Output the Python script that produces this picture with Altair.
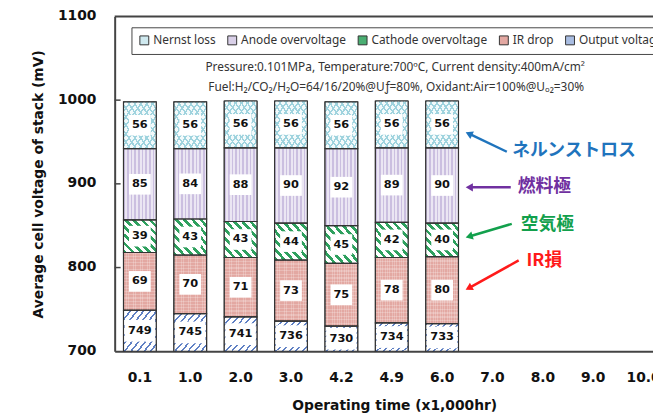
import math
import altair as alt
import pandas as pd

# ---------------- data ----------------
times = ["0.1", "1.0", "2.0", "3.0", "4.2", "4.9", "6.0", "7.0", "8.0", "9.0", "10.0"]
output_voltage = [749, 745, 741, 736, 730, 734, 733]
ir_drop = [69, 70, 71, 73, 75, 78, 80]
cathode_overvoltage = [39, 43, 43, 44, 45, 42, 40]
anode_overvoltage = [85, 84, 88, 90, 92, 89, 90]
nernst_loss = [56, 56, 56, 56, 56, 56, 56]
stack_order = ["Output voltage", "IR drop", "Cathode overvoltage", "Anode overvoltage", "Nernst loss"]
legend_order = ["Nernst loss", "Anode overvoltage", "Cathode overvoltage", "IR drop", "Output voltage"]
legend_colors = ["#cfe9ef", "#d9d0e8", "#4aae72", "#e3a8a2", "#a9bde2"]
y_ticks = [700, 800, 900, 1000, 1100]
inner_ticks = [800, 900, 1000]
y_min, y_max = 700, 1100

subtitle1 = "Pressure:0.101MPa, Temperature:700\u00baC, Current density:400mA/cm\u00b2"
subtitle2 = "Fuel:H\u2082/CO\u2082/H\u2082O=64/16/20%@U\u0192=80%,  Oxidant:Air=100%@U\u2092\u2082=30%"

annotations = [
    ("\u30cd\u30eb\u30f3\u30b9\u30c8\u30ed\u30b9", "#1f74bd"),
    ("\u71c3\u6599\u6975", "#7030a0"),
    ("\u7a7a\u6c17\u6975", "#12a04c"),
    ("IR\u640d", "#ff1a1a"),
]

# ---------------- table ----------------
rows = []
value_lists = [output_voltage, ir_drop, cathode_overvoltage, anode_overvoltage, nernst_loss]
for i, t in enumerate(times[:len(output_voltage)]):
    base = 0
    for name, vals in zip(stack_order, value_lists):
        v = vals[i]
        lo = max(base, y_min)
        hi = base + v
        rows.append(dict(time=t, series=name, value=v, lo=lo, hi=hi,
                         mid=(lo + hi) / 2, digits=len(str(v))))
        base += v
df = pd.DataFrame(rows)


def stripes(c1, c2, n, duty, x1, y1, x2, y2):
    stops = []
    for k in range(n):
        a = k / n
        b = (k + duty) / n
        c = (k + 1) / n
        stops += [alt.GradientStop(offset=a, color=c1), alt.GradientStop(offset=b, color=c1),
                  alt.GradientStop(offset=b, color=c2), alt.GradientStop(offset=c, color=c2)]
    return alt.LinearGradient(gradient="linear", stops=stops, x1=x1, y1=y1, x2=x2, y2=y2)


YTITLE = "Average cell voltage of stack (mV)"
x_enc = alt.X(
    "time:N", sort=times,
    scale=alt.Scale(domain=times, paddingInner=0.35, paddingOuter=0.175),
    axis=alt.Axis(labelFont="DejaVu Sans", labelFontWeight="bold", labelFontSize=14,
                  labelColor="#111", labelAngle=0, labelPadding=20, ticks=False,
                  domainColor="#444", domainWidth=2, titleFont="DejaVu Sans",
                  titleFontWeight="bold", titleFontSize=14, titleColor="#111",
                  titlePadding=14, labelOverlap=False, titleX=283),
    title="Operating time (x1,000hr)")
y_scale = alt.Scale(domain=[y_min, y_max], nice=False, zero=False)
y_axis = alt.Axis(values=y_ticks, format="d", grid=False, ticks=False, labelFont="DejaVu Sans",
                  labelFontWeight="bold", labelFontSize=14, labelColor="#111",
                  labelPadding=19, labelOffset=-1, domainColor="#444", domainWidth=2,
                  titleFont="DejaVu Sans", titleFontWeight="bold", titleFontSize=14,
                  titleColor="#111", titlePadding=12)


def Y(field):
    return alt.Y(field, scale=y_scale, axis=y_axis, title=YTITLE)


base = alt.Chart(df)
layers = []

layers.append(base.mark_bar(stroke="#333", strokeWidth=1).encode(
    x=x_enc, y=Y("lo:Q"), y2="hi:Q",
    fill=alt.Fill("series:N", scale=alt.Scale(domain=legend_order, range=legend_colors),
                  legend=alt.Legend(orient="none", legendX=17, legendY=11,
                                    direction="horizontal", columns=5, title=None,
                                    symbolType="square", symbolSize=81,
                                    symbolStrokeColor="#333", symbolStrokeWidth=1,
                                    labelFont="Noto Sans", labelFontSize=12,
                                    labelColor="#333", labelOffset=3, columnPadding=9,
                                    padding=7, strokeColor="#444"))))

overlays = [
    ("Nernst loss", stripes("#9fd3de", "#f3fafb", 11, 0.3, 0, 0, 1, 1)),
    ("Nernst loss", stripes("#9fd3de", "rgba(255,255,255,0)", 11, 0.3, 0, 1, 1, 0)),
    ("Anode overvoltage", stripes("#cbbfe0", "#ebe6f3", 9, 0.45, 0, 0, 1, 0)),
    ("Cathode overvoltage", stripes("#2ea05e", "#ffffff", 8, 0.45, 0, 1, 1, 0)),
    ("IR drop", stripes("rgba(255,255,255,0.22)", "rgba(255,255,255,0)", 14, 0.35, 0, 0, 1, 0)),
    ("IR drop", stripes("rgba(255,255,255,0.22)", "rgba(255,255,255,0)", 18, 0.35, 0, 0, 0, 1)),
    ("Output voltage", stripes("#5f80c4", "#ffffff", 10, 0.3, 0, 0, 1, 1)),
]
for name, grad in overlays:
    layers.append(base.transform_filter(alt.datum.series == name)
                  .mark_bar(fill=grad, strokeWidth=0)
                  .encode(x=x_enc, y=Y("lo:Q"), y2="hi:Q"))

layers.append(base.mark_bar(fill="transparent", stroke="#333", strokeWidth=1.2).encode(
    x=x_enc, y=Y("lo:Q"), y2="hi:Q"))

# white label boxes
layers.append(base.transform_filter(alt.datum.digits == 2)
              .mark_point(shape="M-1,-0.95L1,-0.95L1,0.95L-1,0.95Z", filled=True,
                          color="white", opacity=1, size=484, strokeWidth=0)
              .encode(x=x_enc, y=Y("mid:Q")))
layers.append(base.transform_filter(alt.datum.digits == 3)
              .mark_point(shape="M-1.4,-1L1.4,-1L1.4,1L-1.4,1Z", filled=True,
                          color="white", opacity=1, size=484, strokeWidth=0)
              .encode(x=x_enc, y=Y("mid:Q")))
layers.append(base.mark_text(font="DejaVu Sans", fontWeight="bold", fontSize=11.5,
                             color="#111").encode(x=x_enc, y=Y("mid:Q"),
                                                  text=alt.Text("value:Q")))

# inward y ticks and top frame
layers.append(alt.Chart(pd.DataFrame({"v": inner_ticks})).mark_rule(
    color="#444", strokeWidth=1.5).encode(y=Y("v:Q"), x=alt.value(0), x2=alt.value(6)))
one = pd.DataFrame({"k": [0]})
layers.append(alt.Chart(one).mark_rule(color="#444", strokeWidth=2).encode(
    x=alt.value(0), x2=alt.value(561), y=alt.value(0)))

# subtitles
layers.append(alt.Chart(one).mark_text(text=subtitle1, font="Noto Sans", fontSize=12,
                                       color="#333").encode(x=alt.value(284), y=alt.value(51)))
layers.append(alt.Chart(one).mark_text(text=subtitle2, font="Noto Sans", fontSize=12,
                                       color="#333").encode(x=alt.value(285), y=alt.value(72)))

# annotations with arrows (plot pixel coordinates)
text_pos = [(465, 136), (435, 173), (438, 211), (435, 248)]
arrow_pos = [((397, 137), (355, 117)), ((401, 173), (355, 173)),
             ((402, 210), (355, 224)), ((409, 247), (355, 277))]
for (label, col), (tx, ty), ((x0, y0), (x1, y1)) in zip(annotations, text_pos, arrow_pos):
    dx, dy = x1 - x0, y1 - y0
    L = math.hypot(dx, dy)
    ux, uy = dx / L, dy / L
    cx, cy = x1 - ux * 4, y1 - uy * 4
    ang = math.degrees(math.atan2(dx, -dy)) % 360
    layers.append(alt.Chart(one).mark_rule(color=col, strokeWidth=2.5).encode(
        x=alt.value(x0), y=alt.value(y0), x2=alt.value(cx), y2=alt.value(cy)))
    layers.append(alt.Chart(one).mark_point(shape="triangle-up", filled=True, color=col,
                                            opacity=1, size=70, angle=ang).encode(
        x=alt.value(cx), y=alt.value(cy)))
    layers.append(alt.Chart(one).mark_text(text=label, font="Noto Sans CJK JP",
                                           fontWeight="bold", fontSize=18, color=col).encode(
        x=alt.value(tx), y=alt.value(ty)))

# plot area runs 11 bands of ~51px; the right part falls past the window edge (as in the original)
chart = alt.layer(*layers).properties(
    width=561, height=339,
    autosize=alt.AutoSizeParams(type="none"),
    padding={"left": 108, "top": 6, "right": -16, "bottom": 63},
).configure_view(strokeWidth=0)

chart.save("out.html", embed_options={"renderer": "svg", "actions": False})
